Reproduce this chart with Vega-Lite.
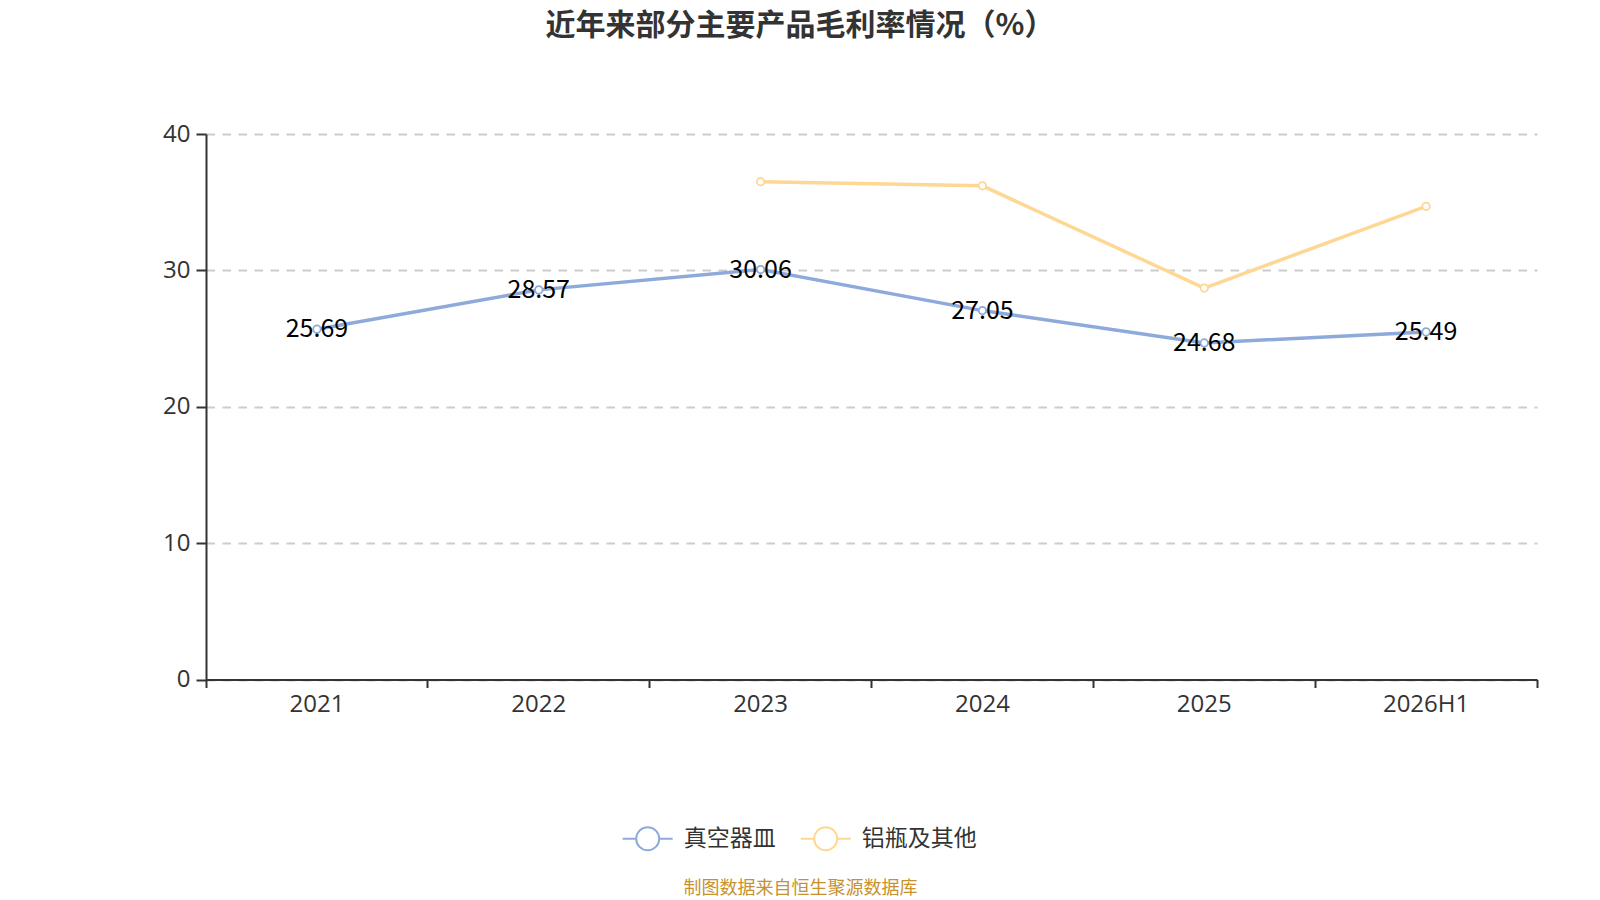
{
  "$schema": "https://vega.github.io/schema/vega-lite/v6.json",
  "width": 1331,
  "height": 545.5,
  "autosize": {"type": "none"},
  "padding": {"left": 206, "top": 134, "right": 63, "bottom": 220.5},
  "background": "white",
  "title": {
    "text": "近年来部分主要产品毛利率情况（%）",
    "font": "Noto Sans CJK SC",
    "fontSize": 30,
    "fontWeight": "bold",
    "color": "#333333",
    "anchor": "middle",
    "frame": "group",
    "dx": -71.5,
    "baseline": "middle",
    "offset": 66
  },
  "config": {
    "view": {"stroke": null},
    "font": "Noto Sans CJK SC"
  },
  "data": {
    "values": [
      {"year": "2021", "series": "真空器皿", "value": 25.69},
      {"year": "2022", "series": "真空器皿", "value": 28.57},
      {"year": "2023", "series": "真空器皿", "value": 30.06},
      {"year": "2024", "series": "真空器皿", "value": 27.05},
      {"year": "2025", "series": "真空器皿", "value": 24.68},
      {"year": "2026H1", "series": "真空器皿", "value": 25.49},
      {"year": "2023", "series": "铝瓶及其他", "value": 36.5},
      {"year": "2024", "series": "铝瓶及其他", "value": 36.2},
      {"year": "2025", "series": "铝瓶及其他", "value": 28.7},
      {"year": "2026H1", "series": "铝瓶及其他", "value": 34.7}
    ]
  },
  "encoding": {
    "x": {
      "field": "year",
      "type": "nominal",
      "sort": ["2021", "2022", "2023", "2024", "2025", "2026H1"],
      "bandPosition": 0.5,
      "scale": {"type": "band", "paddingInner": 0, "paddingOuter": 0},
      "axis": {
        "title": "制图数据来自恒生聚源数据库",
        "titleColor": "#C8912F",
        "titleFontSize": 18,
        "titleFont": "Noto Sans CJK SC",
        "titleFontWeight": "normal",
        "titleX": 594,
        "titleY": 209,
        "titleAlign": "center",
        "titleBaseline": "middle",
        "labelAngle": 0,
        "labelFont": "Open Sans",
        "labelFontSize": 24,
        "labelColor": "#333333",
        "labelPadding": 5,
        "tickSize": 8,
        "tickColor": "#333333",
        "tickWidth": 2,
        "domainColor": "#333333",
        "domainWidth": 2,
        "bandPosition": 1,
        "tickExtra": true,
        "grid": false
      }
    },
    "y": {
      "field": "value",
      "type": "quantitative",
      "scale": {"domain": [0, 40]},
      "axis": {
        "title": null,
        "values": [0, 10, 20, 30, 40],
        "labelFont": "Open Sans",
        "labelFontSize": 24,
        "labelColor": "#333333",
        "labelPadding": 6,
        "tickSize": 10,
        "tickColor": "#333333",
        "tickWidth": 2,
        "domainColor": "#333333",
        "domainWidth": 2,
        "gridColor": "#cccccc",
        "gridDash": [8.5, 7.5],
        "gridWidth": 1.8
      }
    },
    "color": {
      "field": "series",
      "type": "nominal",
      "scale": {"domain": ["真空器皿", "铝瓶及其他"], "range": ["#8DAADB", "#FFD794"]},
      "legend": {
        "title": null,
        "orient": "none",
        "legendX": 415.7,
        "legendY": 678.5,
        "direction": "horizontal",
        "symbolType": "M-1,0L-0.46,0M0.46,0L1,0M-0.46,0A0.46,0.46,0,1,1,0.46,0A0.46,0.46,0,1,1,-0.46,0Z",
        "symbolSize": 2500,
        "symbolStrokeWidth": 2,
        "symbolFillColor": "white",
        "labelFontSize": 23,
        "labelColor": "#333333",
        "labelOffset": 10,
        "columnPadding": 21,
        "padding": 0
      }
    }
  },
  "layer": [
    {"mark": {"type": "line", "strokeWidth": 3.5}},
    {"mark": {"type": "point", "shape": "circle", "filled": false, "fill": "white", "fillOpacity": 1, "opacity": 1, "size": 55, "strokeWidth": 1.8}},
    {
      "transform": [{"filter": "datum.series === '真空器皿'"}],
      "mark": {"type": "text", "fontSize": 25, "baseline": "middle", "align": "center"},
      "encoding": {
        "text": {"field": "value", "type": "quantitative", "format": ".2f"},
        "color": {"value": "#000000"}
      }
    }
  ]
}
